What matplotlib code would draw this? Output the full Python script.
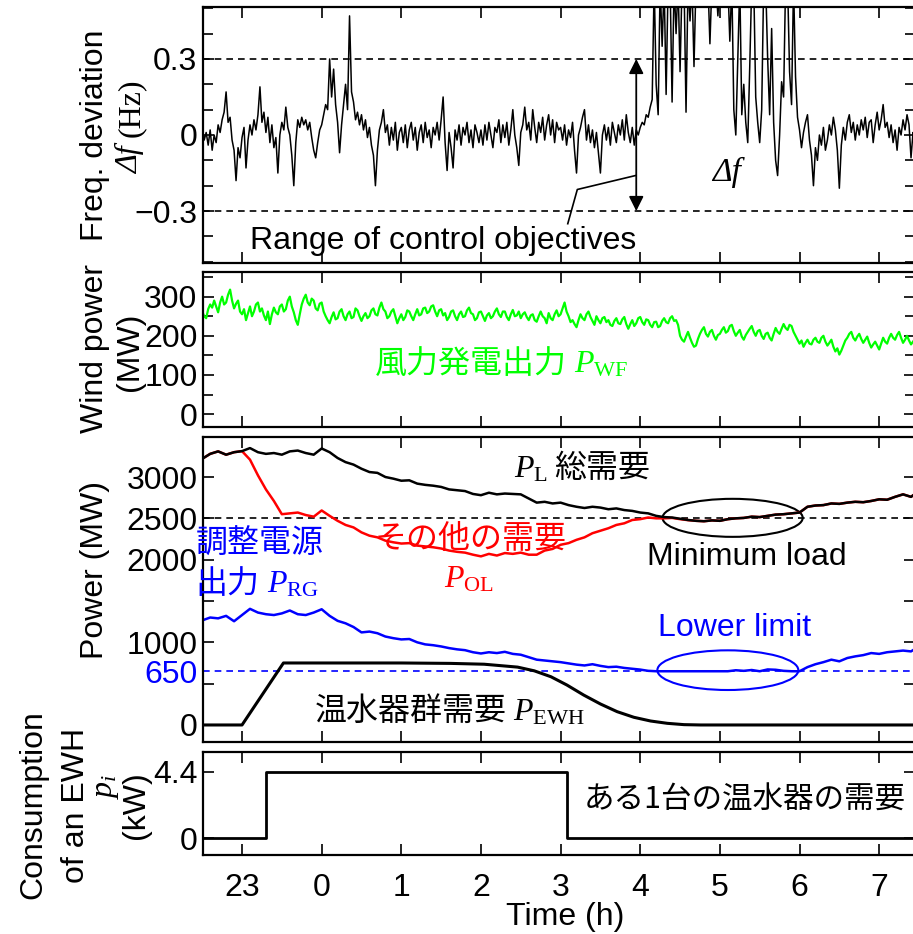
import numpy as np
import matplotlib
matplotlib.use("Agg")
import matplotlib.pyplot as plt
from matplotlib.patches import Ellipse
from matplotlib.ticker import MultipleLocator

plt.rcParams["font.family"] = ["Liberation Sans", "Noto Sans CJK JP", "DejaVu Sans"]
plt.rcParams["mathtext.fontset"] = "custom"
plt.rcParams["mathtext.rm"] = "Liberation Serif"
plt.rcParams["mathtext.it"] = "Liberation Serif:italic"
plt.rcParams["mathtext.bf"] = "Liberation Serif:bold"
FS = 23
CJK = ["Noto Sans CJK JP"]

# ---- data (hours, 0 = midnight; 23 h = -1) ----
hour_ticks = [-1, 0, 1, 2, 3, 4, 5, 6, 7]
hour_labels = ["23", "0", "1", "2", "3", "4", "5", "6", "7"]

# frequency deviation (Hz), one sample every 0.025 h from -1.5 h
freq_dev = [
    # -1.5 .. -1.025
    0.03, -0.02, 0.01, -0.04, 0.02, -0.06, 0.00, -0.03, 0.04, 0.01,
    0.06, 0.09, 0.17, 0.05, 0.07, -0.02, -0.06, -0.18, -0.05, -0.09,
    # -1.0 .. -0.025
    -0.01, 0.03, -0.13, -0.02, 0.04, 0.00, 0.06, 0.02, 0.08, 0.19,
    0.05, 0.09, 0.01, 0.07, -0.03, 0.04, -0.05, -0.01, -0.15, 0.00,
    0.05, 0.02, 0.11, 0.03, 0.00, -0.08, -0.20, -0.03, 0.06, 0.03,
    0.07, 0.04, 0.06, 0.02, 0.05, -0.01, -0.06, -0.09, -0.03, 0.02,
    # 0 .. 0.975
    0.04, 0.08, 0.12, 0.10, 0.30, 0.15, 0.26, 0.12, 0.05, -0.07,
    0.04, 0.12, 0.20, 0.10, 0.47, 0.17, 0.13, 0.06, 0.09, 0.04,
    0.08, 0.02, 0.06, -0.01, 0.03, -0.04, -0.08, -0.20, -0.06, 0.02,
    0.05, 0.10, 0.01, 0.04, -0.04, 0.03, -0.02, 0.05, -0.06, 0.01,
    # 1 .. 1.975
    0.03, -0.03, 0.04, -0.05, 0.02, 0.05, -0.02, 0.03, -0.06, 0.01,
    0.04, -0.03, 0.05, -0.01, 0.02, -0.05, 0.03, 0.00, 0.05, -0.02,
    0.06, 0.15, -0.03, -0.14, 0.01, -0.05, -0.13, 0.02, -0.02, 0.04,
    -0.04, 0.03, 0.00, 0.05, -0.03, 0.02, -0.05, 0.04, 0.01, -0.03,
    # 2 .. 2.975
    0.02, -0.04, 0.04, -0.02, 0.05, 0.00, -0.05, 0.03, 0.01, 0.06,
    -0.03, 0.04, -0.01, 0.05, -0.04, 0.02, 0.10, 0.00, -0.05, -0.12,
    0.01, 0.04, 0.11, 0.02, 0.05, -0.02, 0.10, 0.03, -0.03, 0.05,
    0.01, 0.07, -0.02, 0.04, 0.08, 0.00, 0.06, -0.03, 0.05, 0.02,
    # 3 .. 3.975
    0.03, -0.02, 0.04, -0.04, 0.02, -0.01, 0.05, -0.06, -0.15, 0.00,
    0.03, 0.07, 0.10, -0.02, 0.04, -0.03, 0.02, -0.05, 0.01, -0.07,
    -0.15, 0.00, 0.04, -0.02, 0.03, -0.04, 0.05, 0.01, -0.03, 0.04,
    0.00, 0.06, -0.02, 0.08, 0.01, -0.03, 0.03, -0.04, 0.02, 0.00,
    # 4 .. 4.975
    0.03, 0.05, 0.04, 0.08, 0.07, 0.11, 0.14, 0.60, 0.20, 0.08,
    0.60, 0.35, 0.60, 0.16, 0.60, 0.60, 0.13, 0.60, 0.40, 0.60,
    0.25, 0.60, 0.60, 0.09, 0.60, 0.45, 0.60, 0.27, 0.60, 0.60,
    0.60, 0.60, 0.60, 0.60, 0.60, 0.36, 0.60, 0.60, 0.60, 0.47,
    # 5 .. 5.975
    0.60, 0.60, 0.60, 0.60, 0.60, 0.37, 0.60, 0.10, 0.00, 0.30,
    0.60, 0.08, 0.20, 0.05, -0.03, 0.27, 0.60, 0.60, 0.15, 0.05,
    -0.03, 0.10, 0.60, 0.60, 0.30, 0.08, 0.42, 0.05, -0.10, -0.16,
    0.00, 0.21, 0.15, 0.60, 0.60, 0.25, 0.12, 0.60, 0.23, 0.07,
    # 6 .. 6.975
    0.02, -0.05, 0.01, 0.05, 0.08, -0.02, -0.08, -0.20, -0.05, -0.10,
    0.00, -0.04, 0.03, -0.06, -0.02, 0.04, 0.00, 0.07, 0.02, -0.06,
    -0.21, -0.04, 0.03, -0.02, 0.05, 0.08, 0.01, 0.05, -0.02, 0.04,
    0.00, 0.06, 0.02, 0.07, -0.01, 0.05, 0.06, -0.03, 0.04, 0.09,
    # 7 .. 7.475
    0.02, 0.06, 0.12, 0.03, 0.05, -0.01, 0.04, -0.03, 0.02, -0.06,
    0.03, 0.00, 0.06, 0.02, 0.08, 0.04, -0.09, 0.01, -0.02, 0.03,
]

# wind farm output (MW), every 0.025 h from -1.5 h (rows of half an hour)
wind_mw = [
    262, 250, 245, 268, 280, 272, 290, 275, 260, 285, 300, 280, 285, 305, 318, 290, 270, 282, 290, 262,
    255, 268, 240, 258, 275, 250, 262, 280, 285, 262, 270, 252, 240, 262, 230, 255, 272, 260, 255, 275,
    280, 262, 268, 290, 300, 275, 260, 240, 228, 255, 280, 295, 305, 285, 278, 295, 290, 270, 265, 282,
    285, 262, 250, 240, 232, 248, 260, 242, 245, 262, 268, 250, 240, 255, 262, 245, 248, 270, 265, 250,
    238, 250, 258, 245, 250, 265, 270, 255, 252, 272, 285, 268, 262, 245, 250, 262, 268, 250, 232, 245,
    255, 240, 248, 265, 262, 250, 240, 255, 268, 252, 255, 270, 272, 258, 262, 275, 278, 262, 250, 265,
    268, 252, 258, 240, 248, 262, 265, 250, 240, 255, 262, 248, 250, 265, 272, 258, 255, 240, 245, 260,
    262, 250, 238, 252, 258, 245, 250, 262, 270, 255, 248, 262, 262, 248, 240, 255, 266, 250, 252, 262,
    245, 255, 260, 248, 240, 252, 255, 240, 236, 250, 262, 250, 245, 232, 258, 245, 240, 255, 265, 250,
    255, 270, 285, 262, 250, 235, 240, 230, 222, 240, 255, 245, 240, 255, 262, 248, 238, 228, 250, 240,
    232, 245, 248, 235, 240, 228, 225, 238, 245, 232, 230, 242, 248, 230, 218, 230, 240, 225, 232, 245,
    248, 235, 228, 242, 240, 228, 222, 235, 236, 222, 225, 238, 245, 235, 232, 245, 250, 238, 240, 228,
    200, 190, 185, 198, 210, 195, 182, 172, 175, 192, 205, 215, 222, 205, 198, 210, 215, 200, 190, 202,
    205, 215, 222, 208, 212, 225, 228, 212, 200, 208, 215, 198, 190, 202, 210, 218, 225, 210, 200, 212,
    215, 200, 192, 205, 208, 195, 188, 205, 220, 210, 205, 218, 230, 220, 215, 228, 225, 210, 200, 190,
    180, 188, 172, 182, 190, 180, 178, 190, 195, 185, 182, 195, 200, 185, 175, 182, 190, 172, 160, 168,
    152, 162, 175, 188, 195, 205, 210, 195, 188, 198, 205, 192, 182, 190, 198, 182, 170, 178, 185, 175,
    165, 180, 195, 185, 180, 195, 205, 195, 190, 202, 210, 195, 182, 190, 200, 188, 178, 185, 192, 185,
]

# total load, other load, regulating generation (MW), every 0.1 h from -1.5 h
load_total = [
    3220, 3280, 3310, 3270, 3300, 3313, 3350, 3300, 3280, 3290,
    3270, 3310, 3320, 3290, 3270, 3345, 3300, 3230, 3180, 3150,
    3100, 3060, 3050, 3000, 2980, 2955, 2960, 2920, 2905, 2895,
    2880, 2850, 2840, 2830, 2795, 2780, 2810, 2790, 2800, 2795,
    2790, 2740, 2690, 2700, 2680, 2690, 2660, 2640, 2625, 2640,
    2630, 2610, 2620, 2600, 2590, 2570, 2560, 2530, 2515, 2510,
    2495, 2480, 2470, 2465, 2475, 2470, 2490, 2500, 2505, 2520,
    2515, 2530, 2545, 2550, 2560, 2570, 2640, 2655, 2660, 2680,
    2675, 2690, 2700, 2695, 2710, 2730, 2725, 2760, 2790, 2760, 2830,
]
load_other = [
    3220, 3280, 3310, 3270, 3300, 3313, 3210, 3020, 2850, 2710,
    2550, 2560, 2570, 2540, 2520, 2595, 2530, 2470, 2420, 2390,
    2330, 2290, 2270, 2230, 2210, 2195, 2200, 2170, 2160, 2150,
    2135, 2110, 2095, 2085, 2060, 2040, 2070, 2050, 2080, 2070,
    2085, 2060, 2060, 2110, 2130, 2180, 2200, 2240, 2270, 2320,
    2350, 2380, 2420, 2440, 2480, 2490, 2510, 2500, 2500, 2505,
    2490, 2478, 2470, 2465, 2475, 2470, 2490, 2500, 2505, 2520,
    2515, 2530, 2545, 2550, 2560, 2570, 2640, 2655, 2660, 2680,
    2675, 2690, 2700, 2695, 2710, 2730, 2725, 2760, 2790, 2760, 2830,
]
reg_gen = [
    1265, 1300, 1290, 1320, 1255, 1330, 1405, 1360, 1340, 1330,
    1350, 1385, 1340, 1330, 1360, 1400, 1320, 1260, 1230, 1185,
    1120, 1130, 1110, 1070, 1050, 1035, 1040, 1000, 975, 965,
    950, 930, 915, 905, 880, 865, 880, 870, 885, 860,
    850, 820, 790, 780, 770, 760, 745, 730, 720, 735,
    715, 700, 705, 690, 680, 670, 655, 650, 650, 650,
    650, 650, 650, 650, 650, 650, 650, 662, 655, 665,
    650, 672, 668, 655, 650, 650, 700, 735, 760, 790,
    770, 810, 830, 845, 870, 860, 880, 890, 900, 890, 950,
]

# aggregated water-heater demand (MW)
ewh_t = [-1.5, -1.0, -0.48, 1.0, 1.62, 2.04, 2.46, 2.67, 2.88, 3.08, 3.29,
         3.5, 3.71, 3.92, 4.13, 4.34, 4.55, 4.76, 7.5]
ewh_mw = [0, 0, 750, 750, 745, 735, 700, 655, 583, 483, 362,
          254, 161, 93, 48, 20, 4, 0, 0]

# one water heater (kW), step changes
one_t = [-1.5, -0.7, 3.08, 7.5]
one_kw = [0, 4.4, 0, 0]

min_load = 2500
lower_limit = 650

t_freq = -1.5 + 0.025 * np.arange(len(freq_dev))
t_wind = -1.5 + 0.025 * np.arange(len(wind_mw))
t_slow = -1.5 + 0.1 * np.arange(len(load_total))

# ---- figure ----
fig = plt.figure(figsize=(9.13, 9.34), dpi=100)
L, Wd = 203 / 913, 712 / 913


def add(top, bot):
    return fig.add_axes([L, 1 - bot / 934, Wd, (bot - top) / 934])


def style(ax):
    ax.set_xlim(-1.49, 7.45)
    ax.set_xticks(hour_ticks)
    ax.tick_params(which="both", direction="in", top=True, right=True,
                   width=1.2, labelsize=FS, pad=4)
    ax.tick_params(which="major", length=8)
    ax.tick_params(which="minor", length=7)
    ax.tick_params(axis="x", labelbottom=False)
    for s in ax.spines.values():
        s.set_linewidth(1.6)


def label(ax, x, y, pieces, color="k", **kw):
    # pieces: (text, is_cjk) placed one after another on a shared baseline
    prev = None
    for s, cjk in pieces:
        fam = CJK if cjk else None
        if prev is None:
            prev = ax.text(x, y, s, color=color, fontsize=FS, family=fam,
                           ha="left", va="baseline", **kw)
        else:
            prev = ax.annotate(s, xy=(1, y), xycoords=(prev, "data"),
                               xytext=(5, 0), textcoords="offset points",
                               color=color, fontsize=FS, family=fam,
                               ha="left", va="baseline", **kw)
    return prev


ax1 = add(7, 263)
ax2 = add(272, 427)
ax3 = add(437, 742)
ax4 = add(752, 855)
for ax in (ax1, ax2, ax3, ax4):
    style(ax)

# panel 1: frequency
ax1.plot(t_freq, freq_dev, color="k", lw=1.1)
ax1.axhline(0.3, color="k", ls=(0, (4, 3)), lw=1.2)
ax1.axhline(-0.3, color="k", ls=(0, (4, 3)), lw=1.2)
ax1.set_ylim(-0.505, 0.505)
ax1.set_yticks([-0.3, 0, 0.3])
ax1.set_yticklabels(["\u22120.3", "0", "0.3"])
ax1.yaxis.set_minor_locator(MultipleLocator(0.1))
ax1.annotate("", xy=(3.95, 0.3), xytext=(3.95, -0.3),
             arrowprops=dict(arrowstyle="<|-|>", color="k", lw=1.3,
                             mutation_scale=22, shrinkA=0, shrinkB=0))
ax1.plot([3.09, 3.21, 3.94], [-0.35, -0.215, -0.16], color="k", lw=1.2)
ax1.text(-0.9, -0.42, "Range of control objectives", fontsize=FS,
         ha="left", va="center")
ax1.text(5.09, -0.146, "\u0394f", family="Liberation Serif", style="italic",
         fontsize=FS + 1, ha="center", va="center")

# panel 2: wind
ax2.plot(t_wind, wind_mw, color="#00ff00", lw=1.6)
ax2.set_ylim(-33, 363)
ax2.set_yticks([0, 100, 200, 300])
ax2.yaxis.set_minor_locator(MultipleLocator(50))
label(ax2, 0.67, 105, [("風力発電出力", True), ("$P_{\\mathrm{WF}}$", False)],
      color="#00ff00")

# panel 3: power balance
ax3.axhline(min_load, color="k", ls=(0, (4, 3)), lw=1.2)
ax3.axhline(lower_limit, color="#0000ff", ls=(0, (4, 3)), lw=1.2)
ax3.plot(t_slow, load_other, color="#ff0000", lw=1.8)
ax3.plot(t_slow, load_total, color="k", lw=1.8)
ax3.plot(t_slow, reg_gen, color="#0000ff", lw=1.8)
ax3.plot(ewh_t, ewh_mw, color="k", lw=2.2)
ax3.set_ylim(-206, 3484)
ax3.set_yticks([0, 500, 650, 1000, 1500, 2000, 2500, 3000])
ax3.set_yticklabels(["0", "", "650", "1000", "", "2000", "2500", "3000"])
ax3.get_yticklabels()[2].set_color("#0000ff")
for side in ("tick1line", "tick2line"):
    getattr(ax3.yaxis.get_major_ticks()[2], side).set_visible(False)
ax3.add_patch(Ellipse((5.16, 2506), 1.76, 460, fill=False, ec="k", lw=1.5))
ax3.add_patch(Ellipse((5.1, 663), 1.77, 480, fill=False, ec="#0000ff", lw=1.5))
label(ax3, 2.41, 3000, [("$P_{\\mathrm{L}}$", False), ("総需要", True)])
label(ax3, 0.67, 2141, [("その他の需要", True)], color="#ff0000")
label(ax3, 1.53, 1669, [("$P_{\\mathrm{OL}}$", False)], color="#ff0000")
label(ax3, -1.58, 2080, [("調整電源", True)], color="#0000ff", clip_on=False)
label(ax3, -1.58, 1597, [("出力", True), ("$P_{\\mathrm{RG}}$", False)],
      color="#0000ff", clip_on=False)
ax3.text(5.34, 2032, "Minimum load", fontsize=FS, ha="center", va="center")
ax3.text(5.18, 1173, "Lower limit", color="#0000ff", fontsize=FS,
         ha="center", va="center")
label(ax3, -0.09, 60, [("温水器群需要", True), ("$P_{\\mathrm{EWH}}$", False)])

# panel 4: one water heater
ax4.plot(one_t, one_kw, color="k", lw=2.0, drawstyle="steps-post")
ax4.set_ylim(-1.13, 5.73)
ax4.set_yticks([0, 4.4])
ax4.set_yticklabels(["0", "4.4"])
ax4.text(3.29, 2.5, "ある1台の温水器の需要", family=CJK, fontsize=FS - 1,
         ha="left", va="center")
ax4.tick_params(axis="x", labelbottom=True, pad=13)
ax4.set_xticklabels(hour_labels)


# axis titles
def ftext(x, y, s, **kw):
    fig.text(x / 913, 1 - y / 934, s, rotation=90, ha="center", va="center",
             fontsize=FS, **kw)


ftext(95, 135, "Freq. deviation")
ftext(131, 160, "\u0394f", family="Liberation Serif", style="italic")
ftext(131, 108, "(Hz)", family="Liberation Serif")
ftext(95, 349, "Wind power")
ftext(130, 352, "(MW)")
ftext(95, 570, "Power (MW)")
ftext(33, 805, "Consumption")
ftext(76, 805, "of an EWH")
ftext(106, 786, "$p_i$")
ftext(136, 805, "(kW)")
fig.text(565 / 913, 1 - 917 / 934, "Time (h)", ha="center", va="center",
         fontsize=FS)

fig.savefig("out.png", dpi=100)
